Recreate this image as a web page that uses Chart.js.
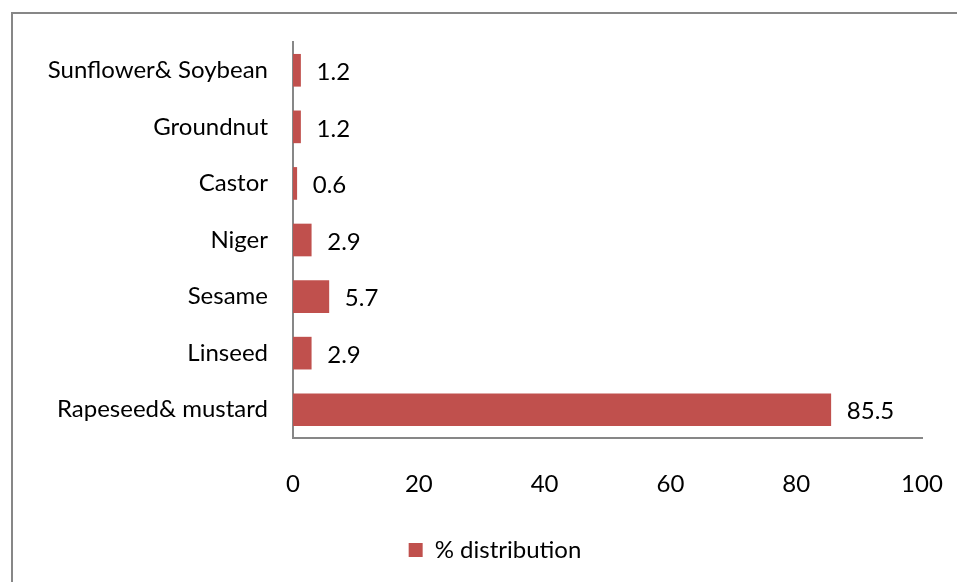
<!DOCTYPE html>
<html>
<head>
<meta charset="utf-8">
<script src="https://cdn.jsdelivr.net/npm/chart.js@4.4.0/dist/chart.umd.min.js"></script>
<style>
  html, body { margin: 0; padding: 0; background: #fff; }
  #wrap { width: 957px; height: 582px; position: relative; }
</style>
</head>
<body>
<div id="wrap"><canvas id="myChart" width="957" height="582"></canvas></div>
<script>
// datos del grafico
const categorias = ['Sunflower& Soybean', 'Groundnut', 'Castor', 'Niger', 'Sesame', 'Linseed', 'Rapeseed& mustard'];
const valores = [1.2, 1.2, 0.6, 2.9, 5.7, 2.9, 85.5];
const etiquetasValor = ['1.2', '1.2', '0.6', '2.9', '5.7', '2.9', '85.5'];
const ticksX = [0, 20, 40, 60, 80, 100];
const nombreSerie = '% distribution';

const fuente = 'Lato, "Open Sans", sans-serif';
const tam = 24;
const gris = '#878787';

// marco gris de la imagen original
const marco = {
  id: 'marco',
  beforeDraw(chart) {
    const c = chart.ctx;
    c.save();
    c.strokeStyle = gris;
    c.lineWidth = 2;
    c.beginPath();
    c.moveTo(12, chart.height);
    c.lineTo(12, 13);
    c.lineTo(chart.width, 13);
    c.stroke();
    c.restore();
  },
  // la leyenda original esta algo corrida a la derecha
  afterUpdate(chart) {
    if (chart.legend) {
      chart.legend.left += 34;
      chart.legend.right += 34;
    }
  }
};

// numeros a la derecha de cada barra
const etiquetas = {
  id: 'etiquetas',
  afterDatasetsDraw(chart) {
    const c = chart.ctx;
    const meta = chart.getDatasetMeta(0);
    c.save();
    c.font = tam + 'px ' + fuente;
    c.fillStyle = '#000';
    c.textBaseline = 'middle';
    c.textAlign = 'left';
    meta.data.forEach((bar, i) => {
      c.fillText(etiquetasValor[i], bar.x + 16, bar.y + 2);
    });
    c.restore();
  }
};

new Chart(document.getElementById('myChart'), {
  type: 'bar',
  data: {
    labels: categorias,
    datasets: [{
      label: nombreSerie,
      data: valores,
      backgroundColor: '#C0504D',
      borderWidth: 0,
      barThickness: 32
    }]
  },
  options: {
    indexAxis: 'y',
    responsive: false,
    animation: false,
    layout: { padding: { top: 42, right: 35, left: 0, bottom: 10 } },
    plugins: {
      tooltip: { enabled: false },
      legend: {
        position: 'bottom',
        labels: {
          font: { size: tam, family: fuente },
          color: '#000',
          boxWidth: 14,
          boxHeight: 14,
          padding: 8
        }
      }
    },
    scales: {
      x: {
        min: 0,
        max: 100,
        afterBuildTicks(axis) { axis.ticks = ticksX.map(v => ({ value: v })); },
        afterFit(axis) {
          axis.height = 92;
          axis.paddingLeft = 0;
          axis.paddingRight = 0;
        },
        grid: { display: false, drawTicks: false },
        border: { color: gris, width: 2 },
        ticks: { font: { size: tam, family: fuente }, color: '#000', padding: 32 }
      },
      y: {
        afterFit(axis) { axis.width = 293; },
        grid: { display: false, drawTicks: false },
        border: { color: gris, width: 2 },
        ticks: { font: { size: tam, family: fuente }, color: '#000', padding: 25 }
      }
    }
  },
  plugins: [marco, etiquetas]
});
</script>
</body>
</html>
